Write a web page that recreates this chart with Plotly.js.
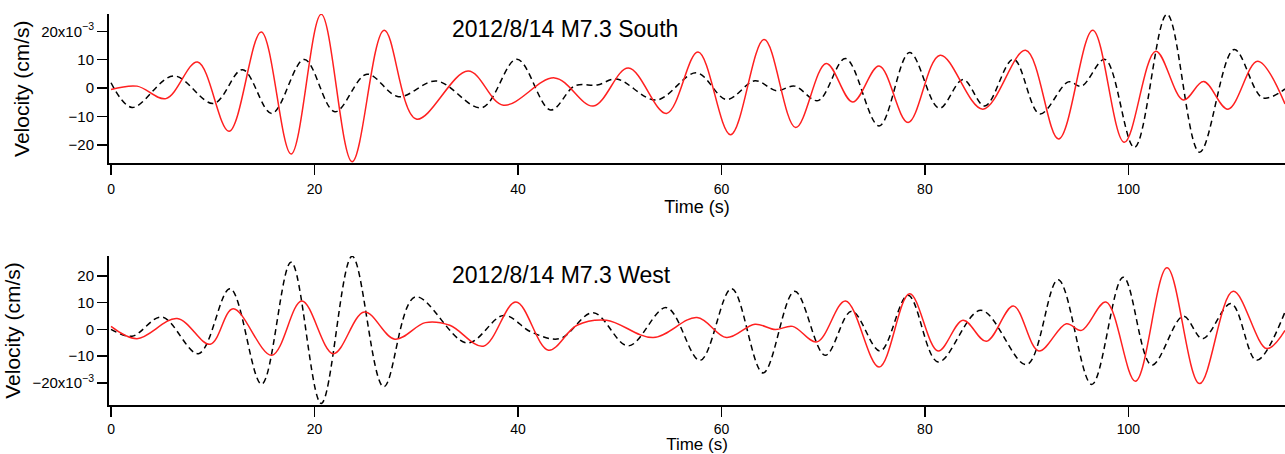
<!DOCTYPE html>
<html>
<head>
<meta charset="utf-8">
<script src="https://cdn.plot.ly/plotly-3.0.1.min.js"></script>
<style>html,body{margin:0;padding:0;background:#fff;}#chart{width:1285px;height:454px;}</style>
</head>
<body>
<div id="chart"></div>
<script>
// ---- South component (top panel), velocity x10^-3 cm/s ----
const southRedT = [0, 2.55, 5.4, 8.5, 11.6, 14.76, 17.7, 20.66, 23.7, 26.85, 30.0, 35.1, 38.57, 43.6, 47.4, 50.85, 54.6, 57.7, 60.9, 64.2, 67.3, 70.3, 72.9, 75.5, 78.35, 81.5, 85.7, 89.9, 93.15, 96.5, 99.6, 102.7, 105.4, 107.4, 109.8, 112.7, 115.4];
const southRedV = [-0.5, 0.7, -3.7, 9.2, -15.2, 19.8, -23.2, 26.0, -25.9, 20.4, -10.9, 6.0, -6.0, 3.6, -6.3, 7.1, -8.9, 12.7, -16.4, 17.1, -13.9, 8.7, -4.9, 7.8, -12.1, 11.6, -7.4, 13.3, -17.9, 20.4, -19.1, 13.0, -4.2, 2.3, -7.4, 9.5, -5.6];
const southBlackT = [0, 2.06, 6.15, 10.08, 12.93, 15.8, 19.0, 22.0, 25.15, 28.25, 32.0, 36.45, 39.9, 43.2, 45.6, 47.8, 49.7, 53.6, 57.55, 60.5, 63.3, 65.4, 67.2, 69.5, 72.2, 75.5, 78.5, 81.4, 83.75, 85.9, 88.7, 91.3, 94.1, 95.4, 97.7, 100.6, 103.8, 107.0, 110.4, 113.2, 115.4];
const southBlackV = [1.9, -6.8, 4.3, -5.4, 6.5, -8.9, 10.1, -8.3, 4.9, -3.0, 2.5, -6.9, 10.2, -7.7, 0.8, 1.1, 3.2, -4.2, 5.4, -4.0, 2.6, -0.9, 0.7, -4.4, 10.4, -13.3, 12.5, -7.1, 3.0, -6.3, 10.2, -9.1, 2.2, 0.7, 10.1, -20.9, 26.0, -22.6, 13.6, -3.4, -0.3];

// ---- West component (bottom panel) ----
const westRedT = [0, 2.55, 6.5, 9.75, 12.0, 15.8, 18.75, 21.85, 24.9, 27.9, 30.9, 33.3, 36.6, 39.8, 43.0, 45.8, 48.7, 53.3, 57.6, 60.5, 63.3, 65.3, 67.0, 69.4, 72.2, 75.5, 78.5, 81.3, 83.75, 86.05, 88.7, 91.2, 93.9, 95.4, 97.8, 100.7, 103.8, 107.0, 110.3, 113.6, 115.4];
const westRedV = [1.1, -3.5, 4.0, -5.6, 7.7, -9.7, 10.6, -9.1, 6.5, -3.7, 2.5, 1.5, -6.3, 10.2, -7.8, 1.5, 3.4, -3.1, 4.4, -3.1, 1.9, -0.1, 1.1, -4.7, 10.6, -14.1, 13.3, -8.1, 3.4, -4.5, 8.7, -8.1, 2.1, -0.4, 10.2, -19.4, 23.0, -20.3, 14.2, -7.2, -0.4];
const westBlackT = [0, 2.06, 5.0, 8.6, 11.7, 14.8, 17.7, 20.66, 23.7, 26.8, 29.9, 35.0, 38.6, 41.3, 44.1, 47.4, 50.85, 54.6, 57.9, 61.0, 64.1, 67.2, 70.2, 72.8, 75.6, 78.35, 81.3, 85.5, 90.0, 93.1, 96.4, 99.5, 102.3, 105.4, 107.3, 110.1, 112.6, 115.4];
const westBlackV = [0.0, -2.6, 4.6, -9.1, 15.2, -20.5, 25.1, -27.7, 27.3, -21.5, 12.1, -5.1, 5.2, -1.0, -3.5, 6.2, -6.2, 8.1, -11.6, 15.2, -16.3, 14.2, -9.7, 6.8, -8.1, 12.7, -12.2, 7.1, -13.2, 18.5, -20.6, 19.5, -13.4, 4.9, -3.5, 9.6, -11.6, 6.5];

const xTickVals = [0, 20, 40, 60, 80, 100];
const yTickVals = [-20, -10, 0, 10, 20];
const southTickText = ['\u221220', '\u221210', '0', '10', '20x10<sup>\u22123</sup>'];
const westTickText = ['\u221220x10<sup>\u22123</sup>', '\u221210', '0', '10', '20'];
const southTitle = '2012/8/14 M7.3 South';
const westTitle = '2012/8/14 M7.3 West';
const xTitle = 'Time (s)';
const yTitle = 'Velocity (cm/s)';

const FONT = 'Liberation Sans, Arial, sans-serif';
const redLine = {color: '#ff2020', width: 1.5, shape: 'spline', smoothing: 1};
const blackLine = {color: '#000000', width: 1.5, dash: '6px,4px', shape: 'spline', smoothing: 1};

const traces = [
  {x: southBlackT, y: southBlackV, xaxis: 'x', yaxis: 'y', mode: 'lines', line: blackLine, hoverinfo: 'skip'},
  {x: southRedT, y: southRedV, xaxis: 'x', yaxis: 'y', mode: 'lines', line: redLine, hoverinfo: 'skip'},
  {x: westBlackT, y: westBlackV, xaxis: 'x2', yaxis: 'y2', mode: 'lines', line: blackLine, hoverinfo: 'skip'},
  {x: westRedT, y: westRedV, xaxis: 'x2', yaxis: 'y2', mode: 'lines', line: redLine, hoverinfo: 'skip'}
];

function xAxis(anchor, labelGap, titleSize) {
  return {
    anchor: anchor, range: [-0.2, 115.4], showgrid: false, zeroline: false,
    showline: true, linecolor: '#000', linewidth: 2,
    ticks: 'outside', ticklen: 10, tickwidth: 1.5, tickcolor: '#000',
    ticklabelstandoff: labelGap,
    tickvals: xTickVals, ticktext: xTickVals.map(String),
    tickfont: {family: FONT, size: 14, color: '#000'},
    title: {text: xTitle, font: {family: FONT, size: titleSize, color: '#000'}, standoff: 0}
  };
}
function yAxis(anchor, domain, range, tickText) {
  return {
    anchor: anchor, domain: domain, range: range, showgrid: false, zeroline: false,
    showline: true, linecolor: '#000', linewidth: 2,
    ticks: 'outside', ticklen: 10, tickwidth: 1.5, tickcolor: '#000',
    tickvals: yTickVals, ticktext: tickText,
    tickfont: {family: FONT, size: 15, color: '#000'},
    title: {text: yTitle, font: {family: FONT, size: 21, color: '#000'}, standoff: 6}
  };
}

const layout = {
  width: 1285, height: 454,
  margin: {l: 109, r: 0, t: 14, b: 49},
  paper_bgcolor: '#fff', plot_bgcolor: '#fff',
  showlegend: false,
  font: {family: FONT, color: '#000'},
  xaxis: xAxis('y', 2, 18),
  yaxis: yAxis('x', [0.618, 1], [-26.5, 26.1], southTickText),
  xaxis2: xAxis('y2', 0, 17),
  yaxis2: yAxis('x2', [0, 0.381], [-28.3, 27.4], westTickText),
  annotations: [
    {text: southTitle, xref: 'paper', yref: 'paper', x: 0.29, y: 0.961, xanchor: 'left', yanchor: 'middle', showarrow: false, font: {family: FONT, size: 23, color: '#000'}},
    {text: westTitle, xref: 'paper', yref: 'paper', x: 0.29, y: 0.3325, xanchor: 'left', yanchor: 'middle', showarrow: false, font: {family: FONT, size: 23, color: '#000'}}
  ]
};

Plotly.newPlot('chart', traces, layout, {staticPlot: true, displayModeBar: false});
</script>
</body>
</html>
